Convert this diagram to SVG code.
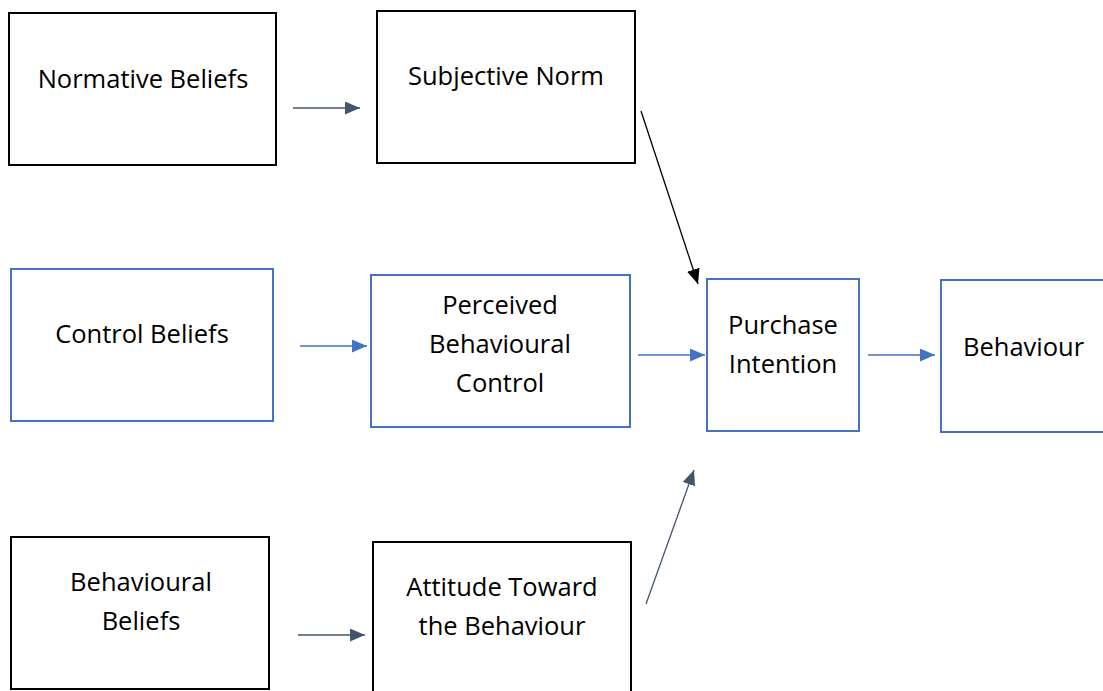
<svg xmlns="http://www.w3.org/2000/svg" width="1103" height="691" viewBox="0 0 1103 691">
<style>
.k{fill:#fff;stroke:#000;stroke-width:2}
.b{fill:#fff;stroke:#4472C4;stroke-width:2}
text{font-family:"Open Sans","Liberation Sans",sans-serif;font-size:25.5px;fill:#000;text-anchor:middle}
.s{stroke:#44546A;stroke-width:1.3;fill:none}
.bl{stroke:#4472C4;stroke-width:1.3;fill:none}
.kl{stroke:#000;stroke-width:1.3;fill:none}
</style>
<defs>
<marker id="ms" markerWidth="15" markerHeight="13" refX="15" refY="6.5" orient="auto" markerUnits="userSpaceOnUse" viewBox="0 0 15 13"><path d="M0,0 L15,6.5 L0,13 z" fill="#44546A"/></marker>
<marker id="mb" markerWidth="15" markerHeight="13" refX="15" refY="6.5" orient="auto" markerUnits="userSpaceOnUse" viewBox="0 0 15 13"><path d="M0,0 L15,6.5 L0,13 z" fill="#4472C4"/></marker>
<marker id="mk" markerWidth="15" markerHeight="13" refX="15" refY="6.5" orient="auto" markerUnits="userSpaceOnUse" viewBox="0 0 15 13"><path d="M0,0 L15,6.5 L0,13 z" fill="#000"/></marker>
</defs>
<rect width="1103" height="691" fill="#fff"/>
<g id="normative-beliefs"><rect class="k" x="9" y="13" width="267" height="152"/><text x="143" y="88">Normative Beliefs</text></g>
<g id="subjective-norm"><rect class="k" x="377" y="11" width="258" height="152"/><text x="506" y="85">Subjective Norm</text></g>
<g id="control-beliefs"><rect class="b" x="11" y="269" width="262" height="152"/><text x="142" y="343">Control Beliefs</text></g>
<g id="perceived-behavioural-control"><rect class="b" x="371" y="275" width="259" height="152"/><text x="500" y="314">Perceived</text><text x="500" y="353">Behavioural</text><text x="500" y="392">Control</text></g>
<g id="purchase-intention"><rect class="b" x="707" y="279" width="152" height="152"/><text x="783" y="334">Purchase</text><text x="783" y="373">Intention</text></g>
<g id="behaviour"><rect class="b" x="941" y="280" width="170" height="152"/><text x="963" y="356" style="text-anchor:start">Behaviour</text></g>
<g id="behavioural-beliefs"><rect class="k" x="11" y="537" width="258" height="152"/><text x="141" y="591">Behavioural</text><text x="141" y="630">Beliefs</text></g>
<g id="attitude"><rect class="k" x="373" y="542" width="258" height="160"/><text x="502" y="596">Attitude Toward</text><text x="502" y="635">the Behaviour</text></g>
<g id="connectors">
<line class="s" x1="293" y1="108" x2="360" y2="108" marker-end="url(#ms)"/>
<line class="kl" x1="641" y1="111" x2="698" y2="284" marker-end="url(#mk)"/>
<line class="bl" x1="300" y1="346" x2="367" y2="346" marker-end="url(#mb)"/>
<line class="bl" x1="638" y1="355" x2="705" y2="355" marker-end="url(#mb)"/>
<line class="bl" x1="868" y1="355" x2="935" y2="355" marker-end="url(#mb)"/>
<line class="s" x1="298" y1="635" x2="365" y2="635" marker-end="url(#ms)"/>
<line class="s" x1="646" y1="604" x2="694" y2="470" marker-end="url(#ms)"/>
</g>
</svg>
